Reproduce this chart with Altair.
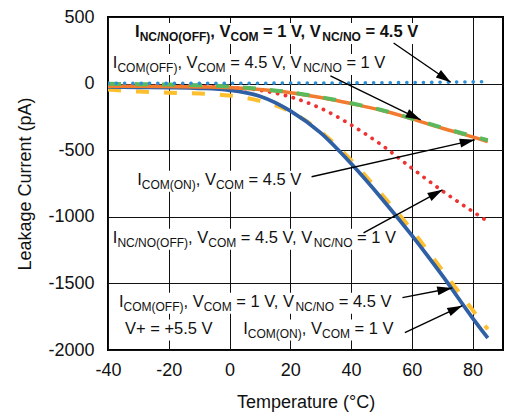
import math
import altair as alt
import pandas as pd

FONT = "Liberation Sans"

# ---------------- data ----------------
temps = [-40, -30, -20, -10, 0, 10, 20, 30, 40, 50, 60, 70, 80, 85]
inc_off_1v = [2, 2, 2, 3, 3, 3, 4, 4, 5, 6, 8, 10, 13, 15]
inc_off_45 = [-10, -12, -15, -20, -30, -50, -100, -185, -310, -460, -635, -805, -960, -1035]
icom_on_45 = [-20, -20, -22, -25, -30, -45, -68, -105, -150, -200, -265, -335, -400, -435]
icom_off_45 = [-2, -4, -7, -12, -22, -40, -65, -102, -147, -198, -262, -330, -395, -425]
icom_off_1v = [-45, -60, -68, -75, -90, -130, -210, -360, -575, -830, -1100, -1400, -1700, -1845]
icom_on_1v = [-25, -28, -30, -35, -50, -95, -205, -370, -600, -860, -1140, -1440, -1760, -1910]

x_ticks = [-40, -20, 0, 20, 40, 60, 80]
y_ticks = [-2000, -1500, -1000, -500, 0, 500]

# label text segments: (text, is_subscript)
label_segments = [
    [("I", 0), ("NC/NO(OFF)", 1), (", V", 0), ("COM", 1), (" = 1 V, V", 0), ("NC/NO", 1), (" = 4.5 V", 0)],
    [("I", 0), ("COM(OFF)", 1), (", V", 0), ("COM", 1), (" = 4.5 V, V", 0), ("NC/NO", 1), (" = 1 V", 0)],
    [("I", 0), ("COM(ON)", 1), (", V", 0), ("COM", 1), (" = 4.5 V", 0)],
    [("I", 0), ("NC/NO(OFF)", 1), (", V", 0), ("COM", 1), (" = 4.5 V, V", 0), ("NC/NO", 1), (" = 1 V", 0)],
    [("I", 0), ("COM(OFF)", 1), (", V", 0), ("COM", 1), (" = 1 V, V", 0), ("NC/NO", 1), (" = 4.5 V", 0)],
    [("V+ = +5.5 V", 0)],
    [("I", 0), ("COM(ON)", 1), (", V", 0), ("COM", 1), (" = 1 V", 0)],
]
label_x = [-31.1, -38.4, -30.4, -38.4, -36.4, -34.4, 4.5]
label_y = [350, 117.5, -760, -1195, -1675, -1877, -1877]
label_bold = [True, False, False, False, False, False, False]

arrow_x1 = [54.0, 33.2, 27.0, 44.1, 56.9, 57.7]
arrow_y1 = [305, 57.5, -699, -1120, -1607, -1870]
arrow_x2 = [72.8, 62.9, 80.7, 70.1, 73.3, 76.6]
arrow_y2 = [10, -272, -422, -797, -1535, -1667]

# ---------------- styles ----------------
W, H = 395, 333
XDOM = [-40, 90]
YDOM = [-2000, 500]
PXX = W / (XDOM[1] - XDOM[0])
PXY = H / (YDOM[1] - YDOM[0])
MAIN_SIZE = 16.5
SUB_SIZE = 12
TEXT_COLOR = "#111111"

series = [
    ("ICOM(OFF) 1V", icom_off_1v, "#fdbf2d", [13, 15], 4, "butt"),
    ("ICOM(ON) 1V", icom_on_1v, "#2f5fa5", None, 3.8, "butt"),
    ("INC/NO(OFF) 4.5V", inc_off_45, "#ee3333", [0.1, 8], 3.8, "round"),
    ("ICOM(ON) 4.5V", icom_on_45, "#f27b30", None, 3.5, "butt"),
    ("ICOM(OFF) 4.5V", icom_off_45, "#5cb85c", [13, 14], 4, "butt"),
    ("INC/NO(OFF) 1V", inc_off_1v, "#2c8fd8", [0.1, 8.2], 3.6, "round"),
]

CHAR_W = {' ': 278, ',': 278, '.': 278, '/': 278, '(': 333, ')': 333, '+': 584, '=': 584,
          'C': 722, 'F': 611, 'I': 278, 'M': 833, 'N': 722, 'O': 778, 'V': 667}


def text_width(s, size):
    return sum(CHAR_W.get(c, 556) for c in s) * size / 1000.0


XS = alt.Scale(domain=XDOM, nice=False, zero=False)
YS = alt.Scale(domain=YDOM, nice=False, zero=False)
XAX = alt.Axis(values=x_ticks, title="Temperature (°C)", labelPadding=11, titlePadding=14,
               labelFlush=False, labelExpr="'' + datum.value")
YAX = alt.Axis(values=y_ticks, title="Leakage Current (pA)", labelPadding=14, titlePadding=13,
               labelFlush=False, labelExpr="'' + datum.value")
X = alt.X("x:Q", scale=XS, axis=XAX)
Y = alt.Y("y:Q", scale=YS, axis=YAX)

# ---------------- label segment tables ----------------
seg_rows = []
box_rows = []
for i, segs in enumerate(label_segments):
    off = 0.0
    for txt, sub in segs:
        size = SUB_SIZE if sub else MAIN_SIZE
        lead = len(txt) - len(txt.lstrip(" "))
        stripped = txt.strip(" ")
        seg_rows.append({
            "x": label_x[i] + (off + text_width(" " * lead, size)) / PXX,
            "y": label_y[i],
            "t": stripped,
            "sub": sub,
            "bold": label_bold[i],
        })
        off += text_width(txt, size)
    box_rows.append({
        "x": label_x[i] - 2 / PXX,
        "x2": label_x[i] + (off + 2) / PXX,
        "y": label_y[i] + 14 / PXY,
        "y2": label_y[i] - 7 / PXY,
    })
seg_df = pd.DataFrame(seg_rows)
box_df = pd.DataFrame(box_rows)

arrow_rows = []
head_rows = []
for i in range(len(arrow_x1)):
    dxp = (arrow_x2[i] - arrow_x1[i]) * PXX
    dyp = -(arrow_y2[i] - arrow_y1[i]) * PXY
    ang = math.degrees(math.atan2(dxp, -dyp)) % 360
    arrow_rows.append({"x": arrow_x1[i], "y": arrow_y1[i], "x2": arrow_x2[i], "y2": arrow_y2[i]})
    head_rows.append({"x": arrow_x2[i], "y": arrow_y2[i], "ang": ang})
arrow_df = pd.DataFrame(arrow_rows)
head_df = pd.DataFrame(head_rows)

# ---------------- layers ----------------
layers = []

for name, vals, color, dash, width, cap in series:
    df = pd.DataFrame({"x": temps, "y": vals})
    kw = dict(color=color, strokeWidth=width, interpolate="monotone", strokeCap=cap, clip=True)
    if dash:
        kw["strokeDash"] = dash
    layers.append(alt.Chart(df).mark_line(**kw).encode(x=X, y=Y))

boxes = alt.Chart(box_df).mark_rect(color="white", opacity=1).encode(
    x=X, x2="x2:Q", y=Y, y2="y2:Q")
layers.insert(0, boxes)

for bold in (False, True):
    for sub in (0, 1):
        d = seg_df[(seg_df["sub"] == sub) & (seg_df["bold"] == bold)]
        if len(d) == 0:
            continue
        kw = dict(align="left", baseline="alphabetic", font=FONT,
                  fontSize=SUB_SIZE if sub else MAIN_SIZE, color=TEXT_COLOR,
                  fontWeight="bold" if bold else "normal")
        if sub:
            kw["dy"] = 4
        layers.append(alt.Chart(d).mark_text(**kw).encode(x=X, y=Y, text="t:N"))

rules = alt.Chart(arrow_df).mark_rule(color="black", strokeWidth=1.4).encode(
    x=X, y=Y, x2="x2:Q", y2="y2:Q")
layers.append(rules)

heads = alt.Chart(head_df).mark_point(
    shape="M0,0 L0.3,1 L-0.3,1 Z", filled=True, color="black", opacity=1,
    size=900, strokeWidth=0).encode(
    x=X, y=Y, angle=alt.Angle("ang:Q", scale=None))
layers.append(heads)

chart = alt.layer(*layers).properties(
    width=W, height=H,
    autosize=alt.AutoSizeParams(type="none"),
    padding={"left": 100, "top": 9, "right": 9, "bottom": 62},
).configure_view(
    stroke="black", strokeWidth=2
).configure_axis(
    grid=True, gridColor="#111111", gridWidth=1, gridOpacity=1,
    domain=False, ticks=False,
    labelFont=FONT, labelFontSize=18, labelColor=TEXT_COLOR,
    titleFont=FONT, titleFontSize=18, titleFontWeight="normal", titleColor=TEXT_COLOR,
)

chart.save("out.html", embed_options={"renderer": "svg", "actions": False})
